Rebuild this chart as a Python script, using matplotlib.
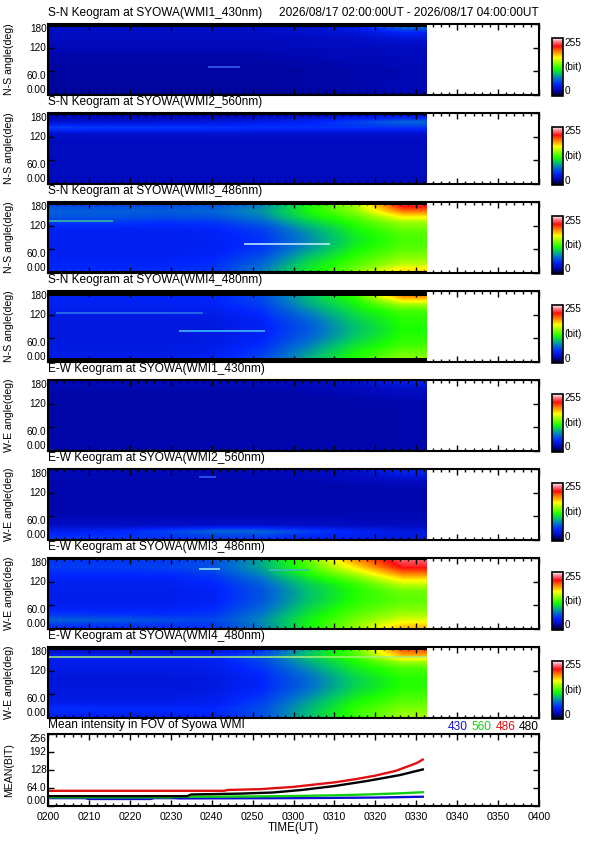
import numpy as np
import matplotlib
matplotlib.use('Agg')
import matplotlib.pyplot as plt
from matplotlib.colors import LinearSegmentedColormap

plt.rcParams['font.family'] = ['Liberation Sans', 'DejaVu Sans']

# ---------------------------------------------------------------- data
DATE_TEXT = "2026/08/17 02:00:00UT - 2026/08/17 04:00:00UT"
DATA_END_MIN = 92.6          # last keogram column (minutes after 02:00)
XTICK_LABELS = ['0200', '0210', '0220', '0230', '0240', '0250', '0300',
                '0310', '0320', '0330', '0340', '0350', '0400']
ANGLE_TICKS = [0, 60, 120, 180]
ANGLE_LABELS = ['0.00', '60.0', '120', '180']
MEAN_TICKS = [0, 64, 128, 192, 256]
MEAN_LABELS = ['0.00', '64.0', '128', '192', '256']

TITLES = ['S-N Keogram at SYOWA(WMI1_430nm)', 'S-N Keogram at SYOWA(WMI2_560nm)',
          'S-N Keogram at SYOWA(WMI3_486nm)', 'S-N Keogram at SYOWA(WMI4_480nm)',
          'E-W Keogram at SYOWA(WMI1_430nm)', 'E-W Keogram at SYOWA(WMI2_560nm)',
          'E-W Keogram at SYOWA(WMI3_486nm)', 'E-W Keogram at SYOWA(WMI4_480nm)']
YLABELS = ['N-S angle(deg)'] * 4 + ['W-E angle(deg)'] * 4

# keogram intensity (bit), rows: angle 172.5 -> 7.5 (15 deg bins),
# columns: 8 equal time bins between 02:00 and DATA_END
SN_430 = [[32, 32, 32, 32, 33, 35, 45, 75],
          [30, 30, 30, 30, 30, 32, 36, 48],
          [28, 28, 28, 28, 28, 29, 31, 36],
          [27, 27, 27, 27, 27, 28, 29, 31],
          [25, 25, 25, 25, 25, 26, 27, 28],
          [24, 24, 24, 24, 24, 25, 26, 27],
          [23, 23, 23, 23, 23, 24, 25, 26],
          [22, 22, 22, 22, 22, 23, 24, 25],
          [22, 22, 22, 22, 22, 23, 24, 25],
          [22, 22, 22, 22, 22, 23, 24, 25],
          [22, 22, 22, 22, 22, 23, 24, 26],
          [21, 21, 21, 21, 21, 22, 23, 25]]
SN_560 = [[26, 26, 26, 26, 28, 30, 35, 40],
          [34, 34, 36, 38, 42, 48, 60, 72],
          [60, 58, 58, 56, 55, 55, 55, 55],
          [34, 34, 34, 34, 34, 34, 34, 34],
          [30, 30, 30, 30, 30, 30, 30, 30],
          [29, 29, 29, 29, 29, 29, 29, 29],
          [28, 28, 28, 28, 28, 28, 28, 28],
          [28, 28, 28, 28, 28, 28, 28, 28],
          [28, 28, 28, 28, 28, 28, 28, 28],
          [28, 28, 28, 28, 28, 28, 28, 28],
          [28, 28, 28, 28, 28, 28, 28, 28],
          [27, 27, 27, 27, 27, 27, 27, 27]]
SN_486 = [[62, 62, 64, 66, 80, 118, 150, 225],
          [70, 70, 70, 72, 85, 118, 145, 200],
          [66, 66, 64, 66, 80, 112, 134, 170],
          [56, 56, 54, 56, 70, 100, 125, 148],
          [48, 48, 48, 50, 60, 90, 118, 138],
          [46, 46, 46, 48, 56, 84, 114, 132],
          [45, 45, 45, 47, 55, 82, 112, 130],
          [45, 45, 45, 47, 56, 85, 115, 132],
          [46, 46, 46, 48, 60, 92, 120, 138],
          [48, 48, 48, 50, 66, 100, 126, 145],
          [50, 50, 50, 53, 72, 108, 132, 155],
          [52, 52, 53, 56, 78, 112, 140, 175]]
SN_480 = [[45, 45, 46, 48, 60, 95, 130, 210],
          [48, 48, 48, 50, 62, 95, 122, 180],
          [46, 46, 46, 48, 58, 90, 116, 148],
          [44, 44, 44, 45, 54, 82, 110, 130],
          [41, 41, 41, 42, 50, 75, 105, 124],
          [39, 39, 39, 41, 48, 70, 100, 122],
          [39, 39, 39, 40, 47, 68, 98, 120],
          [39, 39, 39, 41, 48, 70, 100, 122],
          [40, 40, 40, 42, 50, 75, 105, 125],
          [41, 41, 41, 43, 54, 82, 112, 130],
          [42, 42, 42, 45, 58, 88, 118, 138],
          [43, 43, 44, 47, 62, 92, 122, 145]]
EW_430 = [[26, 26, 26, 26, 27, 28, 32, 45],
          [25, 25, 25, 25, 25, 26, 28, 32],
          [23, 23, 23, 23, 23, 24, 25, 27],
          [23, 23, 23, 23, 23, 23, 24, 25],
          [23, 23, 23, 23, 23, 23, 24, 24],
          [23, 23, 23, 23, 23, 23, 23, 24],
          [23, 23, 23, 23, 23, 23, 23, 24],
          [23, 23, 23, 23, 23, 23, 23, 24],
          [23, 23, 23, 23, 23, 23, 23, 24],
          [23, 23, 23, 23, 23, 23, 23, 24],
          [24, 24, 24, 24, 24, 24, 24, 24],
          [24, 24, 24, 24, 24, 24, 24, 24]]
EW_560 = [[26, 26, 26, 26, 27, 28, 32, 48],
          [25, 25, 25, 25, 25, 26, 28, 34],
          [24, 24, 24, 24, 24, 24, 25, 26],
          [24, 24, 24, 24, 24, 24, 24, 25],
          [24, 24, 24, 24, 24, 24, 24, 24],
          [24, 24, 24, 24, 24, 24, 24, 24],
          [24, 24, 24, 24, 24, 24, 24, 24],
          [25, 25, 25, 25, 25, 25, 25, 25],
          [27, 27, 27, 27, 27, 27, 26, 26],
          [30, 30, 31, 32, 32, 30, 29, 28],
          [45, 50, 60, 72, 72, 60, 48, 40],
          [55, 55, 55, 58, 58, 50, 45, 40]]
EW_486 = [[56, 56, 58, 64, 90, 135, 190, 232],
          [58, 58, 60, 66, 90, 130, 175, 222],
          [53, 53, 54, 60, 84, 122, 155, 200],
          [48, 48, 48, 54, 76, 110, 138, 175],
          [46, 46, 46, 50, 70, 102, 126, 155],
          [44, 44, 44, 48, 66, 98, 122, 140],
          [44, 44, 44, 48, 66, 98, 122, 135],
          [45, 45, 45, 49, 68, 100, 124, 136],
          [48, 48, 48, 52, 72, 105, 128, 142],
          [56, 54, 53, 56, 78, 110, 134, 150],
          [70, 68, 64, 62, 82, 115, 140, 162],
          [54, 54, 54, 56, 80, 116, 146, 180]]
EW_480 = [[30, 30, 32, 36, 55, 95, 135, 205],
          [46, 46, 46, 50, 66, 100, 130, 185],
          [44, 44, 44, 46, 60, 92, 120, 150],
          [42, 42, 42, 44, 56, 85, 114, 132],
          [40, 40, 40, 42, 52, 78, 108, 126],
          [38, 38, 38, 40, 50, 74, 104, 122],
          [38, 38, 38, 40, 50, 74, 104, 122],
          [39, 39, 39, 41, 52, 78, 108, 125],
          [41, 41, 41, 44, 56, 84, 114, 130],
          [44, 44, 44, 46, 60, 90, 120, 136],
          [54, 53, 52, 52, 64, 95, 125, 142],
          [46, 46, 46, 48, 64, 96, 126, 148]]
KEOGRAMS = [SN_430, SN_560, SN_486, SN_480, EW_430, EW_560, EW_486, EW_480]

# black (no data) rows at top / bottom of each keogram, degrees
BLACK_TOP = [7, 5, 8, 12, 3, 3, 5, 8]
BLACK_BOTTOM = [0, 0, 5, 10, 0, 2, 3, 0]

# thin bright streaks: (panel, angle, start min, end min, colour)
STREAKS = [(0, 71, 39, 47, '#3a64ff'),
           (2, 73, 48, 69, '#c8f4ff'),
           (2, 132, 0, 16, '#40c0a0'),
           (3, 79, 32, 53, '#40c8ff'),
           (3, 124, 2, 38, '#3078e8'),
           (5, 160, 37, 41, '#3060ff'),
           (6, 153, 37, 42, '#a0e8ff'),
           (6, 150, 54, 64, '#40b8c0'),
           (7, 155, 0, 92.6, '#a8f078')]

# mean intensity in FOV
MEAN_SERIES = ['430', '560', '486', '480']
MEAN_COLORS = ['#1010d0', '#10d010', '#e01010', '#000000']
T_430 = [0, 9, 10, 25, 26, 31, 32, 60, 80, 91.6]
V_430 = [28, 28, 25, 25, 28, 28, 27, 28, 30, 33]
T_560 = [0, 30, 31, 50, 62, 70, 78, 86, 91.6]
V_560 = [31, 31, 33, 34, 36, 38, 41, 45, 49]
T_486 = [0, 43, 44, 52, 60, 65, 70, 75, 80, 85, 90, 91.6]
V_486 = [54, 54, 57, 60, 68, 76, 84, 95, 108, 125, 152, 165]
T_480 = [0, 34, 35, 47, 55, 62, 70, 78, 86, 91.6]
V_480 = [35, 35, 41, 44, 48, 57, 71, 89, 110, 130]
MEAN_T = [T_430, T_560, T_486, T_480]
MEAN_V = [V_430, V_560, V_486, V_480]

# ---------------------------------------------------------------- style
W, H = 595, 842
fig = plt.figure(figsize=(W / 100, H / 100), dpi=100)


def rect(left, top, width, height):
    return [left / W, 1 - (top + height) / H, width / W, height / H]


cmap = LinearSegmentedColormap.from_list('ct', [
    (0.00, (0, 0, 0)), (0.04, (0, 0, 0.35)), (0.10, (0, 0.03, 0.72)),
    (0.20, (0, 0.15, 1.0)), (0.30, (0, 0.45, 0.8)), (0.38, (0, 0.75, 0.45)),
    (0.47, (0.1, 1, 0)), (0.58, (0.6, 1, 0)), (0.66, (1, 1, 0)),
    (0.76, (1, 0.55, 0)), (0.86, (1, 0.05, 0.05)), (0.94, (1, 0.5, 0.55)),
    (1.00, (1, 1, 1))])

AX_L, AX_R = 48, 539
AX_W = AX_R - AX_L
PITCH = 89
TOP0 = 24
AX_H = 71
FS_TITLE = 8.6
FS_TICK = 7.2


def style_axes(ax):
    for s in ax.spines.values():
        s.set_linewidth(1.5)
    ax.set_xlim(0, 120)
    ax.set_xticks(np.arange(0, 121, 10))
    ax.set_xticks(np.arange(0, 121, 2), minor=True)
    ax.tick_params(which='both', direction='in', top=True, right=True,
                   bottom=True, left=True, width=1.0, pad=1.0)
    ax.tick_params(which='major', length=4.5)
    ax.tick_params(which='minor', length=2.2)


for i, grid in enumerate(KEOGRAMS):
    top = TOP0 + PITCH * i
    ax = fig.add_axes(rect(AX_L, top, AX_W, AX_H))
    im = ax.imshow(np.array(grid, dtype=float), cmap=cmap, vmin=0, vmax=255,
                   extent=(0, DATA_END_MIN, 0, 180), origin='upper',
                   aspect='auto', interpolation='bilinear',
                   interpolation_stage='data')
    if BLACK_TOP[i] > 0:
        ax.fill_between([0, DATA_END_MIN], 180 - BLACK_TOP[i], 180,
                        color='black', lw=0)
    if BLACK_BOTTOM[i] > 0:
        ax.fill_between([0, DATA_END_MIN], 0, BLACK_BOTTOM[i],
                        color='black', lw=0)
    for (p, ang, t0, t1, c) in STREAKS:
        if p == i:
            ax.plot([t0, t1], [ang, ang], color=c, lw=1.1, solid_capstyle='butt')
    style_axes(ax)
    ax.set_ylim(0, 180)
    ax.set_yticks(ANGLE_TICKS)
    ax.set_yticklabels(ANGLE_LABELS, fontsize=FS_TICK)
    for lab, va in zip(ax.get_yticklabels(), ['bottom', 'top', 'center', 'top']):
        lab.set_va(va)
    ax.set_xticklabels([])
    # title texts
    fig.text(AX_L / W, 1 - (top - 11) / H, TITLES[i], fontsize=FS_TITLE,
             ha='left', va='center')
    if i == 0:
        fig.text(AX_R / W, 1 - (top - 11) / H, DATE_TEXT, fontsize=FS_TITLE,
                 ha='right', va='center')
    fig.text(9 / W, 1 - (top + AX_H / 2) / H, YLABELS[i], fontsize=7.6,
             rotation=90, ha='center', va='center')
    # colorbar
    cax = fig.add_axes(rect(552, top + 14, 11, 58))
    cb = fig.colorbar(im, cax=cax)
    cb.set_ticks([])
    cb.outline.set_linewidth(1.2)
    cx = 564.5 / W
    fig.text(cx, 1 - (top + 13.5) / H, '255', fontsize=FS_TICK, ha='left',
             va='top')
    fig.text(cx, 1 - (top + 14 + 29) / H, '(bit)', fontsize=FS_TICK,
             ha='left', va='center')
    fig.text(cx, 1 - (top + 72.5) / H, '0', fontsize=FS_TICK, ha='left',
             va='bottom')

# ---------------------------------------------------------------- mean panel
MTOP = 734
axm = fig.add_axes(rect(AX_L, MTOP, AX_W, 72))
for t, v, c in zip(MEAN_T, MEAN_V, MEAN_COLORS):
    axm.plot(t, v, color=c, lw=1.7)
style_axes(axm)
axm.set_ylim(0, 256)
axm.set_yticks(MEAN_TICKS)
axm.set_yticklabels(MEAN_LABELS, fontsize=FS_TICK)
for lab, va in zip(axm.get_yticklabels(),
                   ['bottom', 'center', 'center', 'center', 'top']):
    lab.set_va(va)
axm.set_xticklabels(XTICK_LABELS, fontsize=7.6)
axm.tick_params(axis='x', pad=4)
fig.text((AX_L + AX_W / 2) / W, 1 - 828 / H, 'TIME(UT)', fontsize=8.4,
         ha='center', va='center')
fig.text(9 / W, 1 - (MTOP + 36) / H, 'MEAN(BIT)', fontsize=7.6, rotation=90,
         ha='center', va='center')
fig.text(AX_L / W, 1 - 725 / H, 'Mean intensity in FOV of Syowa WMI',
         fontsize=FS_TITLE, ha='left', va='center')

# legend text, right aligned, coloured
renderer = fig.canvas.get_renderer()
x_right = AX_R
for name, c in reversed(list(zip(MEAN_SERIES, MEAN_COLORS))):
    t = fig.text(x_right / W, 1 - 727 / H, name, fontsize=FS_TITLE, color=c,
                 ha='right', va='center')
    bb = t.get_window_extent(renderer=renderer)
    x_right -= bb.width + 4

fig.savefig('out.png', dpi=100)
